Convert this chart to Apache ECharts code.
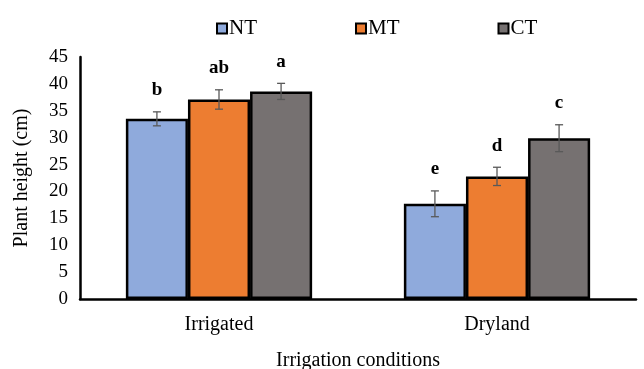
<!DOCTYPE html>
<html lang="en" style="height: 100%">
<head>
  <meta charset="utf-8">
</head>
<body style="height: 100%; margin: 0">
  <div id="container" style="height: 100%"></div>
  <script type="text/javascript" src="https://cdn.jsdelivr.net/npm/echarts@6/dist/echarts.min.js"></script>
  <script type="text/javascript">
    var dom = document.getElementById('container');
    var myChart = echarts.init(dom, null, { renderer: 'canvas' });

    const conditions = ['Irrigated', 'Dryland'];
    const treatments = ['NT', 'MT', 'CT'];
    const colors = ['#8FAADC', '#ED7D31', '#767171'];
    const NT = [33.5, 17.7];
    const MT = [37.1, 22.8];
    const CT = [38.6, 29.9];
    const NTerr = [1.3, 2.4];
    const MTerr = [1.8, 1.7];
    const CTerr = [1.5, 2.5];
    const NTletters = ['b', 'e'];
    const MTletters = ['ab', 'd'];
    const CTletters = ['a', 'c'];

    const values = [NT, MT, CT];
    const errs = [NTerr, MTerr, CTerr];
    const letters = [NTletters, MTletters, CTletters];
    const gapRatio = 0.33;
    const serif = '"Liberation Serif", "Times New Roman", serif';

    var series = treatments.map(function (t, i) {
      return {
        name: t,
        type: 'bar',
        data: values[i],
        barGap: '0%',
        barCategoryGap: '33%',
        itemStyle: { color: colors[i], borderColor: '#000', borderWidth: 2.5 }
      };
    });

    treatments.forEach(function (t, i) {
      series.push({
        name: t + ' err',
        type: 'custom',
        z: 5,
        data: conditions.map(function (c, j) {
          return [j, values[i][j], errs[i][j]];
        }),
        renderItem: function (params, api) {
          var x = api.value(0);
          var v = api.value(1);
          var e = api.value(2);
          var catW = api.size([1, 0])[0];
          var bw = catW * (1 - gapRatio) / 3;
          var center = api.coord([x, v]);
          var cx = center[0] + (i - 1) * bw;
          var hi = api.coord([x, v + e])[1];
          var lo = api.coord([x, v - e])[1];
          var style = { stroke: '#595959', lineWidth: 1.3 };
          return {
            type: 'group',
            children: [
              { type: 'line', shape: { x1: cx, y1: hi, x2: cx, y2: lo }, style: style },
              { type: 'line', shape: { x1: cx - 4, y1: hi, x2: cx + 4, y2: hi }, style: style },
              { type: 'line', shape: { x1: cx - 4, y1: lo, x2: cx + 4, y2: lo }, style: style },
              {
                type: 'text',
                style: {
                  text: letters[i][x],
                  x: cx,
                  y: hi - 12,
                  textAlign: 'center',
                  textVerticalAlign: 'bottom',
                  font: 'bold 19px ' + serif,
                  fill: '#000'
                }
              }
            ]
          };
        }
      });
    });

    var option = {
      animation: false,
      textStyle: { fontFamily: serif },
      legend: {
        data: treatments,
        top: 13,
        left: 211,
        itemGap: 98,
        itemWidth: 10,
        itemHeight: 10,
        icon: 'rect',
        itemStyle: { borderColor: '#000', borderWidth: 2 },
        textStyle: { fontSize: 21, color: '#000', fontFamily: serif, padding: [0, 0, 0, -3] }
      },
      grid: { left: 80, right: 8, top: 57, bottom: 70, outerBoundsMode: 'none' },
      xAxis: {
        type: 'category',
        data: conditions,
        name: 'Irrigation conditions',
        nameLocation: 'middle',
        nameGap: 52,
        nameTextStyle: { fontSize: 20, color: '#000' },
        axisLine: { lineStyle: { color: '#000', width: 2.5 } },
        axisTick: { show: false },
        axisLabel: { fontSize: 20, color: '#000', margin: 16 }
      },
      yAxis: {
        type: 'value',
        min: 0,
        max: 45,
        interval: 5,
        name: 'Plant height (cm)',
        nameLocation: 'middle',
        nameGap: 48,
        nameTextStyle: { fontSize: 20, color: '#000' },
        axisLine: { show: true, lineStyle: { color: '#000', width: 2.5 } },
        axisTick: { show: false },
        splitLine: { show: false },
        axisLabel: { fontSize: 19, color: '#000', margin: 12 }
      },
      series: series
    };

    myChart.setOption(option);
    window.addEventListener('resize', myChart.resize);
  </script>
</body>
</html>
